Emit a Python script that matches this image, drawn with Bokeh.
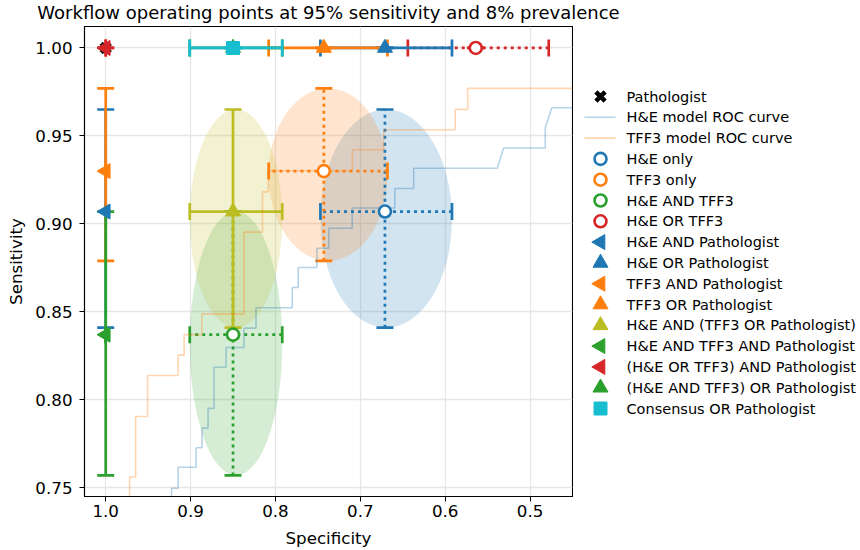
import math
from bokeh.plotting import figure
from bokeh.layouts import row, column
from bokeh.models import Range1d, FixedTicker, NumeralTickFormatter
from bokeh.core.properties import value
from bokeh.embed import file_html
from bokeh.resources import INLINE

# ---------------- data ----------------
title_text = "Workflow operating points at 95% sensitivity and 8% prevalence"

pathologist_spec = [1.0]
pathologist_sens = [1.0]

workflow_names = [
    "H&E only", "TFF3 only", "H&E AND TFF3", "H&E OR TFF3",
    "H&E AND Pathologist", "H&E OR Pathologist",
    "TFF3 AND Pathologist", "TFF3 OR Pathologist",
    "H&E AND (TFF3 OR Pathologist)", "H&E AND TFF3 AND Pathologist",
    "(H&E OR TFF3) AND Pathologist", "(H&E AND TFF3) OR Pathologist",
    "Consensus OR Pathologist",
]
spec = [0.671, 0.743, 0.850, 0.564, 1.000, 0.671, 1.000, 0.743, 0.850, 1.000, 1.000, 0.850, 0.850]
spec_ci_low = [0.592, 0.668, 0.792, 0.478, 1.000, 0.592, 1.000, 0.668, 0.792, 1.000, 1.000, 0.792, 0.792]
spec_ci_high = [0.747, 0.808, 0.901, 0.644, 1.000, 0.747, 1.000, 0.808, 0.901, 1.000, 1.000, 0.901, 0.901]
sens = [0.907, 0.930, 0.837, 1.000, 0.907, 1.000, 0.930, 1.000, 0.907, 0.837, 1.000, 1.000, 1.000]
sens_ci_low = [0.841, 0.879, 0.757, 1.000, 0.841, 1.000, 0.879, 1.000, 0.841, 0.757, 1.000, 1.000, 1.000]
sens_ci_high = [0.965, 0.977, 0.907, 1.000, 0.965, 1.000, 0.977, 1.000, 0.965, 0.907, 1.000, 1.000, 1.000]

he_roc_spec = [0.9224, 0.9224, 0.9147, 0.9147, 0.8935, 0.8935, 0.8865, 0.8865, 0.8794, 0.8794,
               0.8724, 0.8724, 0.8582, 0.8582, 0.8371, 0.8371, 0.8229, 0.8229, 0.7802, 0.7802,
               0.7732, 0.7732, 0.7512, 0.7512, 0.7371, 0.7371, 0.7096, 0.7096, 0.6594, 0.6594,
               0.6371, 0.6371, 0.5386, 0.5312, 0.4821, 0.4821, 0.4744, 0.44]
he_roc_sens = [0.7381, 0.7497, 0.7497, 0.7616, 0.7616, 0.7727, 0.7727, 0.7839, 0.7839, 0.7951,
               0.7951, 0.8185, 0.8185, 0.8297, 0.8297, 0.8407, 0.8407, 0.8523, 0.8523, 0.8638,
               0.8638, 0.8752, 0.8752, 0.8861, 0.8861, 0.8975, 0.8975, 0.9090, 0.9090, 0.9201,
               0.9201, 0.9316, 0.9316, 0.9431, 0.9431, 0.9546, 0.9660, 0.9660]

tff3_roc_spec = [0.9718, 0.9718, 0.9647, 0.9647, 0.9506, 0.9506, 0.9147, 0.9147, 0.9076, 0.9076,
                 0.8868, 0.8868, 0.8371, 0.8371, 0.8153, 0.8153, 0.8085, 0.8085, 0.7094, 0.7094,
                 0.6724, 0.6724, 0.5882, 0.5882, 0.5735, 0.5735, 0.44]
tff3_roc_sens = [0.7326, 0.7561, 0.7561, 0.7905, 0.7905, 0.8138, 0.8138, 0.8254, 0.8254, 0.8370,
                 0.8370, 0.8488, 0.8488, 0.8953, 0.8953, 0.9182, 0.9182, 0.9302, 0.9302, 0.9421,
                 0.9421, 0.9535, 0.9535, 0.9651, 0.9651, 0.9770, 0.9770]

x_ticks = [1.0, 0.9, 0.8, 0.7, 0.6, 0.5]
y_ticks = [0.75, 0.80, 0.85, 0.90, 0.95, 1.00]

# ---------------- styles ----------------
BLUE, ORANGE, GREEN, RED, OLIVE, CYAN = "#1f77b4", "#ff7f0e", "#2ca02c", "#d62728", "#bcbd22", "#17becf"
colors = [BLUE, ORANGE, GREEN, RED, BLUE, BLUE, ORANGE, ORANGE, OLIVE, GREEN, RED, GREEN, CYAN]
markers = ["circle"] * 4 + ["left", "up", "left", "up", "up", "left", "left", "up", "square"]
dashes = ["3 4"] * 4 + ["solid"] * 9
FONT = "DejaVu Sans"
LW = 2.7
CAP = 17
ROC_ALPHA = 0.32
W_TOTAL = 860
TITLE_H = 24
TOP_B = 2
LEFT_B = 84
FRAME_W, FRAME_H = 488, 470
MAIN_W = LEFT_B + FRAME_W + 1
LEG_W = W_TOTAL - MAIN_W

# ---------------- title strip ----------------
tfig = figure(width=W_TOTAL, height=TITLE_H, x_range=Range1d(0, W_TOTAL), y_range=Range1d(TITLE_H, 0),
              x_axis_type=None, y_axis_type=None, output_backend="svg", toolbar_location=None,
              min_border=0, outline_line_color=None,
              background_fill_color="white", border_fill_color="white")
tfig.text(x=[LEFT_B + FRAME_W / 2], y=[TITLE_H / 2], text=[title_text],
          text_font=value(FONT), text_font_size=value("18px"), text_color="black",
          text_align="center", text_baseline="middle")

# ---------------- main plot ----------------
p = figure(frame_width=FRAME_W, frame_height=FRAME_H,
           x_range=Range1d(1.025, 0.45), y_range=Range1d(0.745, 1.0122),
           output_backend="svg", toolbar_location=None,
           min_border_left=LEFT_B, min_border_right=1, min_border_top=TOP_B, min_border_bottom=0,
           background_fill_color="white", border_fill_color="white")

p.outline_line_color = "black"
p.outline_line_width = 1.1
p.outline_line_alpha = 1

for ax in (p.xaxis[0], p.yaxis[0]):
    ax.axis_line_color = "black"
    ax.axis_line_width = 1.1
    ax.major_tick_out = 5
    ax.major_tick_in = 0
    ax.major_tick_line_color = "black"
    ax.minor_tick_line_color = None
    ax.major_label_text_font = FONT
    ax.major_label_text_font_size = "16.7px"
    ax.major_label_text_color = "black"
    ax.axis_label_text_font = FONT
    ax.axis_label_text_font_size = "16.7px"
    ax.axis_label_text_font_style = "normal"
    ax.axis_label_text_color = "black"

xt = FixedTicker(ticks=x_ticks)
yt = FixedTicker(ticks=y_ticks)
p.xaxis.ticker = xt
p.yaxis.ticker = yt
p.xgrid.ticker = xt
p.ygrid.ticker = yt
p.xaxis.formatter = NumeralTickFormatter(format="0.0")
p.yaxis.formatter = NumeralTickFormatter(format="0.00")
p.xaxis.axis_label = "Specificity"
p.yaxis.axis_label = "Sensitivity"
p.xaxis.major_label_standoff = 3
p.xaxis.axis_label_standoff = 8
p.yaxis.major_label_standoff = 7
p.yaxis.axis_label_standoff = 6
for g in (p.xgrid[0], p.ygrid[0]):
    g.grid_line_color = "#e6e6e6"
    g.grid_line_width = 1.3

n = len(workflow_names)

# confidence ellipses
for i in range(n):
    p.ellipse(x=[(spec_ci_low[i] + spec_ci_high[i]) / 2], y=[(sens_ci_low[i] + sens_ci_high[i]) / 2],
              width=[spec_ci_high[i] - spec_ci_low[i]], height=[sens_ci_high[i] - sens_ci_low[i]],
              fill_color=colors[i], fill_alpha=0.2, line_color=None)

# error bars
for i in range(n):
    c = colors[i]
    p.segment(x0=[spec_ci_low[i]], y0=[sens[i]], x1=[spec_ci_high[i]], y1=[sens[i]],
              line_color=c, line_width=LW, line_dash=dashes[i])
    p.segment(x0=[spec[i]], y0=[sens_ci_low[i]], x1=[spec[i]], y1=[sens_ci_high[i]],
              line_color=c, line_width=LW, line_dash=dashes[i])
    p.scatter(x=[spec_ci_low[i], spec_ci_high[i]], y=[sens[i], sens[i]], marker="dash",
              angle=math.pi / 2, size=CAP, line_color=c, line_width=LW)
    p.scatter(x=[spec[i], spec[i]], y=[sens_ci_low[i], sens_ci_high[i]], marker="dash",
              size=CAP, line_color=c, line_width=LW)

# ROC curves
p.line(he_roc_spec, he_roc_sens, line_color=BLUE, line_alpha=ROC_ALPHA, line_width=1.6)
p.line(tff3_roc_spec, tff3_roc_sens, line_color=ORANGE, line_alpha=ROC_ALPHA, line_width=1.6)


def draw_marker(fig, xs, ys, kind, c):
    if kind == "circle":
        fig.scatter(xs, ys, marker="circle", size=12, fill_color="white", line_color=c, line_width=2.6)
    elif kind == "left":
        fig.scatter(xs, ys, marker="triangle", angle=math.pi / 2, size=15,
                    fill_color=c, line_color=c, line_width=1)
    elif kind == "up":
        fig.scatter(xs, ys, marker="triangle", size=15, fill_color=c, line_color=c, line_width=1)
    elif kind == "square":
        fig.scatter(xs, ys, marker="square", size=13, fill_color=c, line_color=c, line_width=1)
    elif kind == "x":
        fig.scatter(xs, ys, marker="x", size=13, line_color="black", line_width=4.5)


draw_marker(p, pathologist_spec, pathologist_sens, "x", "black")
for i in range(n):
    draw_marker(p, [spec[i]], [sens[i]], markers[i], colors[i])

# ---------------- legend panel ----------------
leg = figure(frame_width=LEG_W, frame_height=FRAME_H, x_range=Range1d(0, LEG_W), y_range=Range1d(FRAME_H, 0),
             x_axis_type=None, y_axis_type=None, output_backend="svg", toolbar_location=None,
             min_border=0, min_border_top=TOP_B, outline_line_color=None,
             background_fill_color="white", border_fill_color="white")

legend_labels = ["Pathologist", "H&E model ROC curve", "TFF3 model ROC curve"] + workflow_names
ROW_STEP = 20.8
n_rows = len(legend_labels)
row_mid = FRAME_H / 2 - 9
row_y = [row_mid + (k - (n_rows - 1) / 2) * ROW_STEP for k in range(n_rows)]
GLYPH_X, LINE_X0, LINE_X1, TEXT_X = 27, 11, 42, 53

draw_marker(leg, [GLYPH_X], [row_y[0]], "x", "black")
leg.segment(x0=[LINE_X0], y0=[row_y[1]], x1=[LINE_X1], y1=[row_y[1]],
            line_color=BLUE, line_alpha=ROC_ALPHA, line_width=1.6)
leg.segment(x0=[LINE_X0], y0=[row_y[2]], x1=[LINE_X1], y1=[row_y[2]],
            line_color=ORANGE, line_alpha=ROC_ALPHA, line_width=1.6)
for i in range(n):
    draw_marker(leg, [GLYPH_X], [row_y[3 + i]], markers[i], colors[i])

leg.text(x=[TEXT_X] * n_rows, y=row_y, text=legend_labels,
         text_font=value(FONT), text_font_size=value("14.5px"), text_color="black",
         text_align="left", text_baseline="middle")

layout = column(tfig, row(p, leg, spacing=0), spacing=0)
open("out.html", "w").write(file_html(layout, INLINE))
